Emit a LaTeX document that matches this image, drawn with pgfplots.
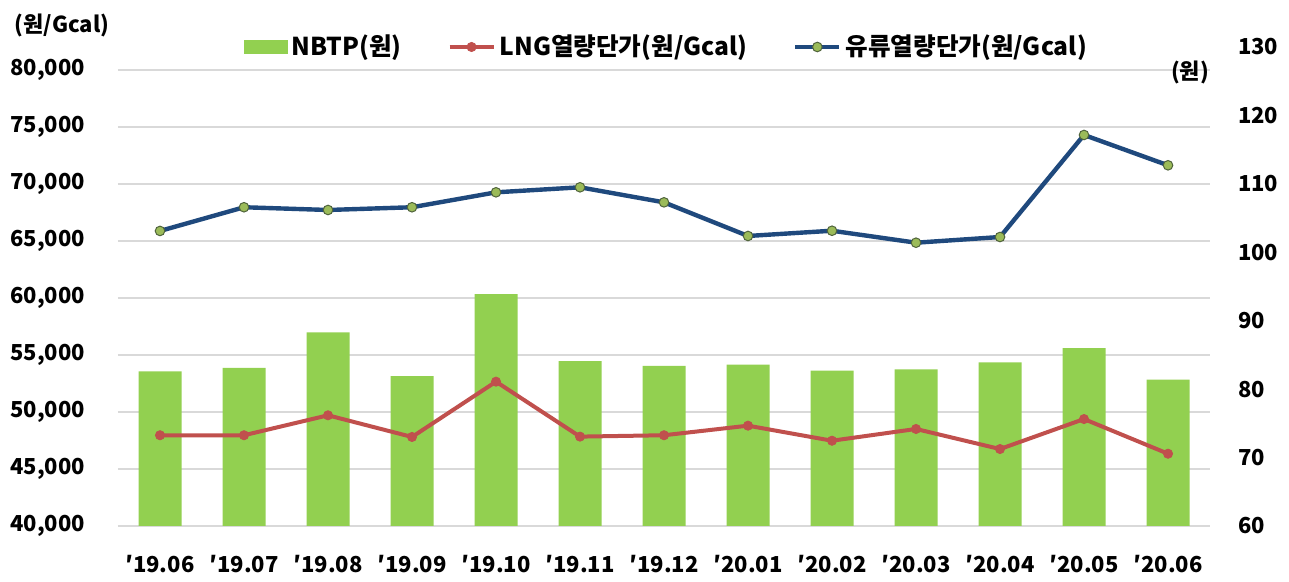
\documentclass[border=0pt]{standalone}
\usepackage{pgfplots}
\pgfplotsset{compat=1.18}
\usepackage{fontspec}
\setmainfont{Noto Sans CJK KR}
\definecolor{barg}{RGB}{146,208,80}
\definecolor{lngred}{RGB}{192,80,77}
\definecolor{oilblue}{RGB}{31,73,125}
\definecolor{oilmark}{RGB}{155,187,89}
\definecolor{oilmarkd}{RGB}{80,100,60}
\definecolor{gridc}{RGB}{217,217,217}
\pgfplotstableread{
x nbtp lng oil
0 82.6 47960 65880
1 83.1 47960 67960
2 88.3 49710 67720
3 81.9 47810 67960
4 93.9 52660 69270
5 84.1 47840 69710
6 83.4 47960 68390
7 83.6 48800 65440
8 82.7 47480 65900
9 82.9 48510 64850
10 83.9 46750 65350
11 86.0 49380 74300
12 81.4 46340 71640
}\datatable
\pgfplotsset{
  base/.style={
    scale only axis, width=546pt, height=239.5pt,
    xmin=-0.5, xmax=12.5,
    axis line style={draw=none}, tick style={draw=none},
    tick label style={font=\fontsize{11}{13}\selectfont\bfseries},
  }
}
\begin{document}
\begin{tikzpicture}
\path[use as bounding box] (-59pt,-28pt) rectangle (585.5pt,263pt);
% axis 1: left scale, grid, labels
\begin{axis}[base, clip=false,
  ymin=40000, ymax=82018,
  ytick={40000,45000,...,80000},
  ymajorgrids, grid style={gridc, line width=0.8pt},
  scaled y ticks=false,
  yticklabel style={anchor=east, xshift=-13pt, /pgf/number format/.cd, fixed, 1000 sep={,}, assume math mode=true},
  xtick={0,...,12},
  xticklabels={′19.06,′19.07,′19.08,′19.09,′19.10,′19.11,′19.12,′20.01,′20.02,′20.03,′20.04,′20.05,′20.06},
  xticklabel style={yshift=-11pt},
]
\addplot[draw=none] coordinates {(0,40000)};
\node[font=\fontsize{11}{13}\selectfont\bfseries] at (rel axis cs:0,1) [xshift=-28pt, yshift=11pt] {(원/Gcal)};
\node[font=\fontsize{11}{13}\selectfont\bfseries] at (rel axis cs:1,1) [xshift=-10pt, yshift=-12.5pt] {(원)};
\end{axis}
% axis 2: right scale, bars
\begin{axis}[base,
  ymin=60, ymax=130,
  axis y line*=right,
  axis x line=none,
  ytick={60,70,...,130},
  yticklabel style={anchor=west, xshift=10.5pt, /pgf/number format/assume math mode=true},
  xtick=\empty,
]
\addplot[ybar, bar width=21.5pt, bar shift=0pt, fill=barg, draw=none] table[x=x, y=nbtp] {\datatable};
\end{axis}
% axis 3: left scale, lines, legend
\begin{axis}[base,
  ymin=40000, ymax=82018,
  ytick=\empty, xtick=\empty,
  legend style={at={(0.503,1)}, anchor=center, draw=none, fill=none,
    font=\fontsize{12.3}{14}\selectfont\bfseries,
    /tikz/every even column/.append style={column sep=21pt}},
  legend columns=3,
  legend image code/.code={\draw[mark repeat=2,mark phase=2,#1] plot coordinates {(0pt,0pt) (11pt,0pt) (22pt,0pt)};},
]
\addlegendimage{legend image code/.code={\fill[barg] (0pt,-3.3pt) rectangle (21.5pt,3.3pt);}}
\addlegendentry{NBTP(원)}
\addplot[lngred, line width=2pt, mark=*, mark size=2.3pt, mark options={fill=lngred, draw=lngred, line width=0.4pt}] table[x=x, y=lng] {\datatable};
\addlegendentry{LNG열량단가(원/Gcal)}
\addplot[oilblue, line width=2.2pt, mark=*, mark size=2.4pt, mark options={fill=oilmark, draw=oilmarkd, line width=0.5pt}] table[x=x, y=oil] {\datatable};
\addlegendentry{유류열량단가(원/Gcal)}
\end{axis}
\end{tikzpicture}
\end{document}
